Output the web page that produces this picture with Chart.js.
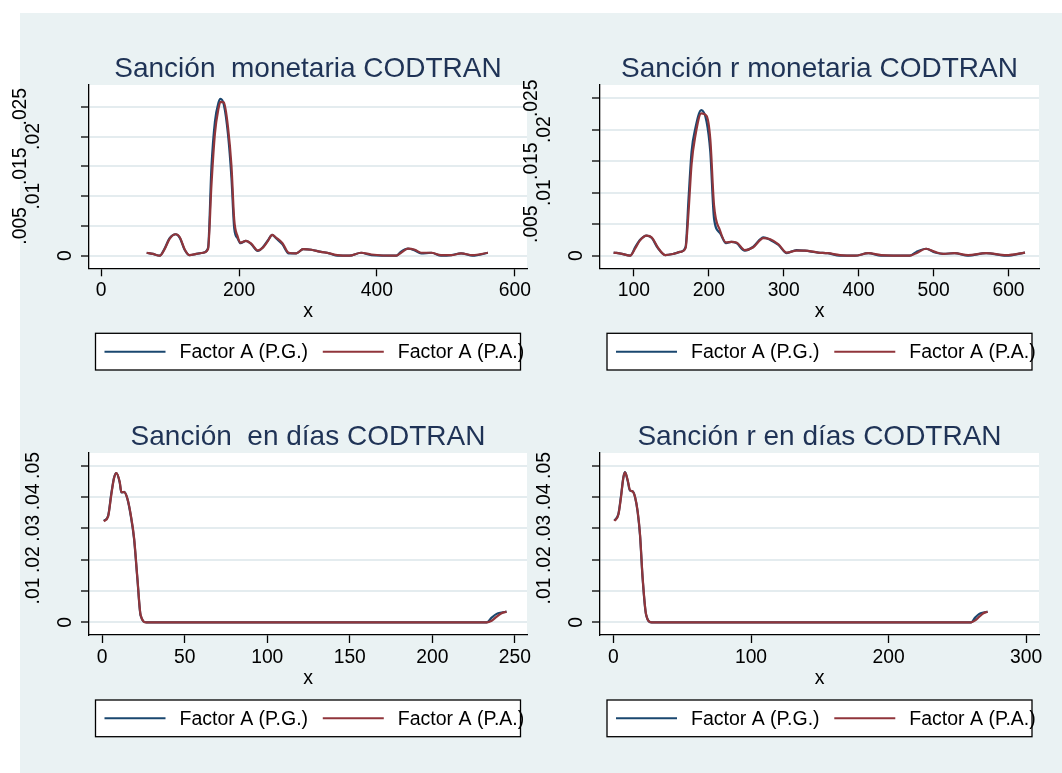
<!DOCTYPE html>
<html>
<head>
<meta charset="utf-8">
<script src="https://cdn.jsdelivr.net/npm/chart.js@4.4.1/dist/chart.umd.min.js"></script>
<style>
  body { margin: 0; background: #fff; }
  #page { position: relative; width: 1062px; height: 773px; overflow: hidden; }
  #fondo { position: absolute; left: 20px; top: 13px; right: 0; bottom: 0; background: #eaf2f3; }
  .panel { position: absolute; }
</style>
</head>
<body>
<div id="page">
  <div id="fondo"></div>
  <div class="panel" id="p1" style="left:0;top:0;width:541px;height:393px"><canvas></canvas></div>
  <div class="panel" id="p2" style="left:510px;top:0;width:552px;height:393px"><canvas></canvas></div>
  <div class="panel" id="p3" style="left:0;top:393px;width:541px;height:380px"><canvas></canvas></div>
  <div class="panel" id="p4" style="left:510px;top:393px;width:552px;height:380px"><canvas></canvas></div>
</div>
<script>
// --- datos ---
const serieNombres = ["Factor A (P.G.)", "Factor A (P.A.)"]

// Sanción monetaria CODTRAN
const xMon = [66, 75, 85, 92, 99, 108, 114, 121, 128, 138, 148, 155, 160, 165, 170, 173, 178, 184, 189, 193, 198, 202, 210, 218, 227, 235, 242, 248, 254, 263, 272, 283, 293, 305, 317, 331, 343, 360, 377, 392, 428, 435, 445, 455, 464, 479, 493, 508, 522, 539, 561]
const pgMon = [.0005, .0003, 0, .0012, .0029, .0036, .0030, .0010, .0001, .0003, .0005, .0013, .0150, .0225, .0256, .0263, .0253, .0203, .0130, .0046, .0029, .0021, .0025, .0019, .0008, .0015, .0026, .0035, .0029, .0019, .0004, .0004, .0011, .0010, .0007, .0004, 0, 0, .0005, .0001, 0, .0007, .0012, .0009, .0004, .0005, 0, .0001, .0004, 0, .0005]
const paMon = [.0005, .0003, 0, .0011, .0028, .0036, .0031, .0011, .0001, .0003, .0005, .0011, .0120, .0205, .0246, .0258, .0257, .0215, .0150, .0060, .0032, .0022, .0025, .0020, .0009, .0014, .0025, .0035, .0030, .0021, .0005, .0004, .0011, .0010, .0007, .0004, .0001, 0, .0005, .0002, 0, .0005, .0012, .0010, .0005, .0005, .0001, .0001, .0004, .0001, .0005]

// Sanción r monetaria CODTRAN
const xMonR = [73, 84, 95, 102, 108, 117, 124, 132, 142, 153, 162, 169, 173, 177, 182, 190, 197, 202, 207, 215, 223, 230, 237, 248, 259, 273, 282, 293, 304, 317, 328, 346, 359, 375, 395, 413, 430, 468, 477, 490, 502, 513, 528, 546, 570, 597, 622]
const pgMonR = [.0005, .0003, 0, .0014, .0025, .0032, .0028, .0012, .0001, .0003, .0006, .0014, .0091, .0165, .0202, .0231, .0213, .0165, .0059, .0036, .0020, .0022, .0020, .0008, .0014, .0029, .0025, .0017, .0004, .0009, .0008, .0005, .0004, 0, 0, .0004, 0, 0, .0006, .0011, .0005, .0003, .0004, 0, .0004, 0, .0005]
const paMonR = [.0005, .0003, 0, .0012, .0024, .0032, .0029, .0013, .0001, .0003, .0006, .0012, .0070, .0145, .0190, .0226, .0222, .0185, .0080, .0040, .0021, .0022, .0021, .0009, .0013, .0028, .0026, .0018, .0005, .0008, .0008, .0005, .0004, .0001, 0, .0004, .0001, 0, .0004, .0011, .0006, .0003, .0004, .0001, .0004, .0001, .0005]

// Sanción en días CODTRAN
const xDias = [1, 3.6, 5.6, 7.2, 8.6, 10.6, 11.6, 13.3, 15.3, 17.3, 19.3, 21.3, 23.3, 26.8, 50, 100, 150, 200, 233, 236, 239, 242, 245]
const pgDias = [.0324, .0340, .0414, .0462, .0476, .0446, .0414, .0416, .0393, .0340, .0266, .0139, .0021, 0, 0, 0, 0, 0, 0, .0015, .0027, .0031, .0034]
const paDias = [.0322, .0338, .0410, .0460, .0476, .0448, .0416, .0415, .0394, .0343, .0270, .0143, .0023, 0, 0, 0, 0, 0, 0, .0005, .0018, .0029, .0034]

// Sanción r en días CODTRAN
const xDiasR = [0.7, 3.6, 5.5, 7.2, 8.4, 10.3, 12, 14, 15.7, 17.6, 19.3, 21.2, 23.7, 27.7, 100, 200, 260, 263, 266, 269, 272]
const pgDiasR = [.0325, .0346, .0404, .0463, .0479, .0452, .0420, .0418, .0399, .0351, .0277, .0139, .0024, 0, 0, 0, 0, .0015, .0027, .0031, .0034]
const paDiasR = [.0323, .0344, .0400, .0461, .0478, .0454, .0422, .0417, .0400, .0354, .0281, .0143, .0026, 0, 0, 0, 0, .0006, .0018, .0029, .0034]

// ticks
const xTicksMon = [0, 200, 400, 600]
const xTicksMonR = [100, 200, 300, 400, 500, 600]
const xTicksDias = [0, 50, 100, 150, 200, 250]
const xTicksDiasR = [0, 100, 200, 300]
const yTicksMon = [0, .005, .01, .015, .02, .025]
const yLabelsMon = ["0", ".005", ".01", ".015", ".02", ".025"]
const yTicksDias = [0, .01, .02, .03, .04, .05]
const yLabelsDias = ["0", ".01", ".02", ".03", ".04", ".05"]

const FONT = '"Liberation Sans", Arial, sans-serif'
const AZUL = '#1a476f'
const ROJO = '#90353b'

const stataPlugin = {
  id: 'stata',
  beforeDraw(chart) {
    const { ctx, chartArea: a } = chart
    ctx.save()
    ctx.fillStyle = '#fff'
    ctx.fillRect(a.left, a.top, a.right - a.left, a.bottom - a.top)
    ctx.restore()
  },
  afterDraw(chart, args, opts) {
    const { ctx, chartArea: a, scales } = chart
    ctx.save()

    // titulo
    ctx.font = `28px ${FONT}`
    ctx.fillStyle = '#1f3356'
    ctx.textAlign = 'center'
    ctx.textBaseline = 'alphabetic'
    ctx.fillText(opts.titulo, (a.left + a.right) / 2, a.top - 8.5)

    // etiquetas del eje y (verticales, como en Stata)
    ctx.font = `19.3px ${FONT}`
    ctx.fillStyle = '#000'
    ctx.textBaseline = 'middle'
    const desfase = { 1: 23.5, 3: 55.5, 4: 68.5 }
    opts.yTicks.forEach((v, i) => {
      const lab = opts.yLabels[i]
      ctx.save()
      ctx.translate(a.left - desfase[lab.length], scales.y.getPixelForValue(v))
      ctx.rotate(-Math.PI / 2)
      ctx.fillText(lab, 0, 0)
      ctx.restore()
    })

    // leyenda
    const bw = 425, bh = 36.7
    const bx = (a.left + a.right) / 2 - bw / 2
    const by = a.bottom + 65
    ctx.fillStyle = '#fff'
    ctx.fillRect(bx, by, bw, bh)
    ctx.strokeStyle = '#000'
    ctx.lineWidth = 1.3
    ctx.strokeRect(bx, by, bw, bh)
    const cy = by + bh / 2
    let x = bx + 9
    ctx.font = `19.5px ${FONT}`
    ctx.textAlign = 'left'
    chart.data.datasets.forEach(ds => {
      ctx.strokeStyle = ds.borderColor
      ctx.lineWidth = 2
      ctx.beginPath()
      ctx.moveTo(x, cy)
      ctx.lineTo(x + 61, cy)
      ctx.stroke()
      x += 75
      ctx.fillStyle = '#000'
      ctx.fillText(ds.label, x, cy + 1)
      x += ctx.measureText(ds.label).width + 14.7
    })
    ctx.restore()
  }
}

const buildPanel = (id, p) => {
  const canvas = document.querySelector(`#${id} canvas`)
  new Chart(canvas, {
    type: 'line',
    data: {
      datasets: [
        { label: serieNombres[0], data: p.xs.map((x, i) => ({ x, y: p.pg[i] })), borderColor: AZUL, order: 2 },
        { label: serieNombres[1], data: p.xs.map((x, i) => ({ x, y: p.pa[i] })), borderColor: ROJO, order: 1 }
      ]
    },
    plugins: [stataPlugin],
    options: {
      responsive: true,
      maintainAspectRatio: false,
      animation: false,
      devicePixelRatio: 1,
      layout: { padding: { left: 0, top: p.padTop, right: p.padRight, bottom: p.padBottom } },
      elements: {
        line: { borderWidth: 2.2, cubicInterpolationMode: 'monotone', fill: false },
        point: { radius: 0 }
      },
      scales: {
        x: {
          type: 'linear',
          min: p.xRange[0],
          max: p.xRange[1],
          afterBuildTicks: s => { s.ticks = p.xTicks.map(v => ({ value: v })) },
          afterFit: s => { s.height = 56 },
          grid: { drawOnChartArea: false, drawTicks: true, tickLength: 8, tickColor: '#000', tickWidth: 1.3 },
          border: { display: true, color: '#000', width: 1.3 },
          ticks: { color: '#000', font: { family: FONT, size: 19.3 }, padding: 3, maxRotation: 0, autoSkip: false },
          title: { display: true, text: 'x', color: '#000', font: { family: FONT, size: 19.5 }, padding: { top: 0, bottom: 1 } }
        },
        y: {
          type: 'linear',
          min: p.yRange[0],
          max: p.yRange[1],
          afterBuildTicks: s => { s.ticks = p.yTicks.map(v => ({ value: v })) },
          afterFit: s => { s.width = p.yWidth },
          grid: { color: '#e4ecef', lineWidth: 2, drawTicks: true, tickLength: 8, tickColor: '#000', tickWidth: 1.3 },
          border: { display: true, color: '#000', width: 1.3 },
          ticks: { color: 'rgba(0,0,0,0)', font: { family: FONT, size: 19.3 } }
        }
      },
      plugins: {
        legend: { display: false },
        tooltip: { enabled: false },
        stata: { titulo: p.titulo, yTicks: p.yTicks, yLabels: p.yLabels }
      }
    }
  })
}

buildPanel('p1', {
  titulo: 'Sanción  monetaria CODTRAN', xs: xMon, pg: pgMon, pa: paMon,
  xTicks: xTicksMon, xRange: [-17.7, 617.7], yTicks: yTicksMon, yLabels: yLabelsMon, yRange: [-0.00211, 0.02864],
  yWidth: 89, padTop: 85, padRight: 14, padBottom: 68.7
})
buildPanel('p2', {
  titulo: 'Sanción r monetaria CODTRAN', xs: xMonR, pg: pgMonR, pa: paMonR,
  xTicks: xTicksMonR, xRange: [54.8, 640.7], yTicks: yTicksMon, yLabels: yLabelsMon, yRange: [-0.0020, 0.0271],
  yWidth: 90, padTop: 85, padRight: 23, padBottom: 68.7
})
buildPanel('p3', {
  titulo: 'Sanción  en días CODTRAN', xs: xDias, pg: pgDias, pa: paDias,
  xTicks: xTicksDias, xRange: [-8, 257.4], yTicks: yTicksDias, yLabels: yLabelsDias, yRange: [-0.00404, 0.054],
  yWidth: 89, padTop: 60, padRight: 14, padBottom: 82
})
buildPanel('p4', {
  titulo: 'Sanción r en días CODTRAN', xs: xDiasR, pg: pgDiasR, pa: paDiasR,
  xTicks: xTicksDiasR, xRange: [-9.8, 309.4], yTicks: yTicksDias, yLabels: yLabelsDias, yRange: [-0.00404, 0.054],
  yWidth: 90, padTop: 60, padRight: 23, padBottom: 82
})
</script>
</body>
</html>
